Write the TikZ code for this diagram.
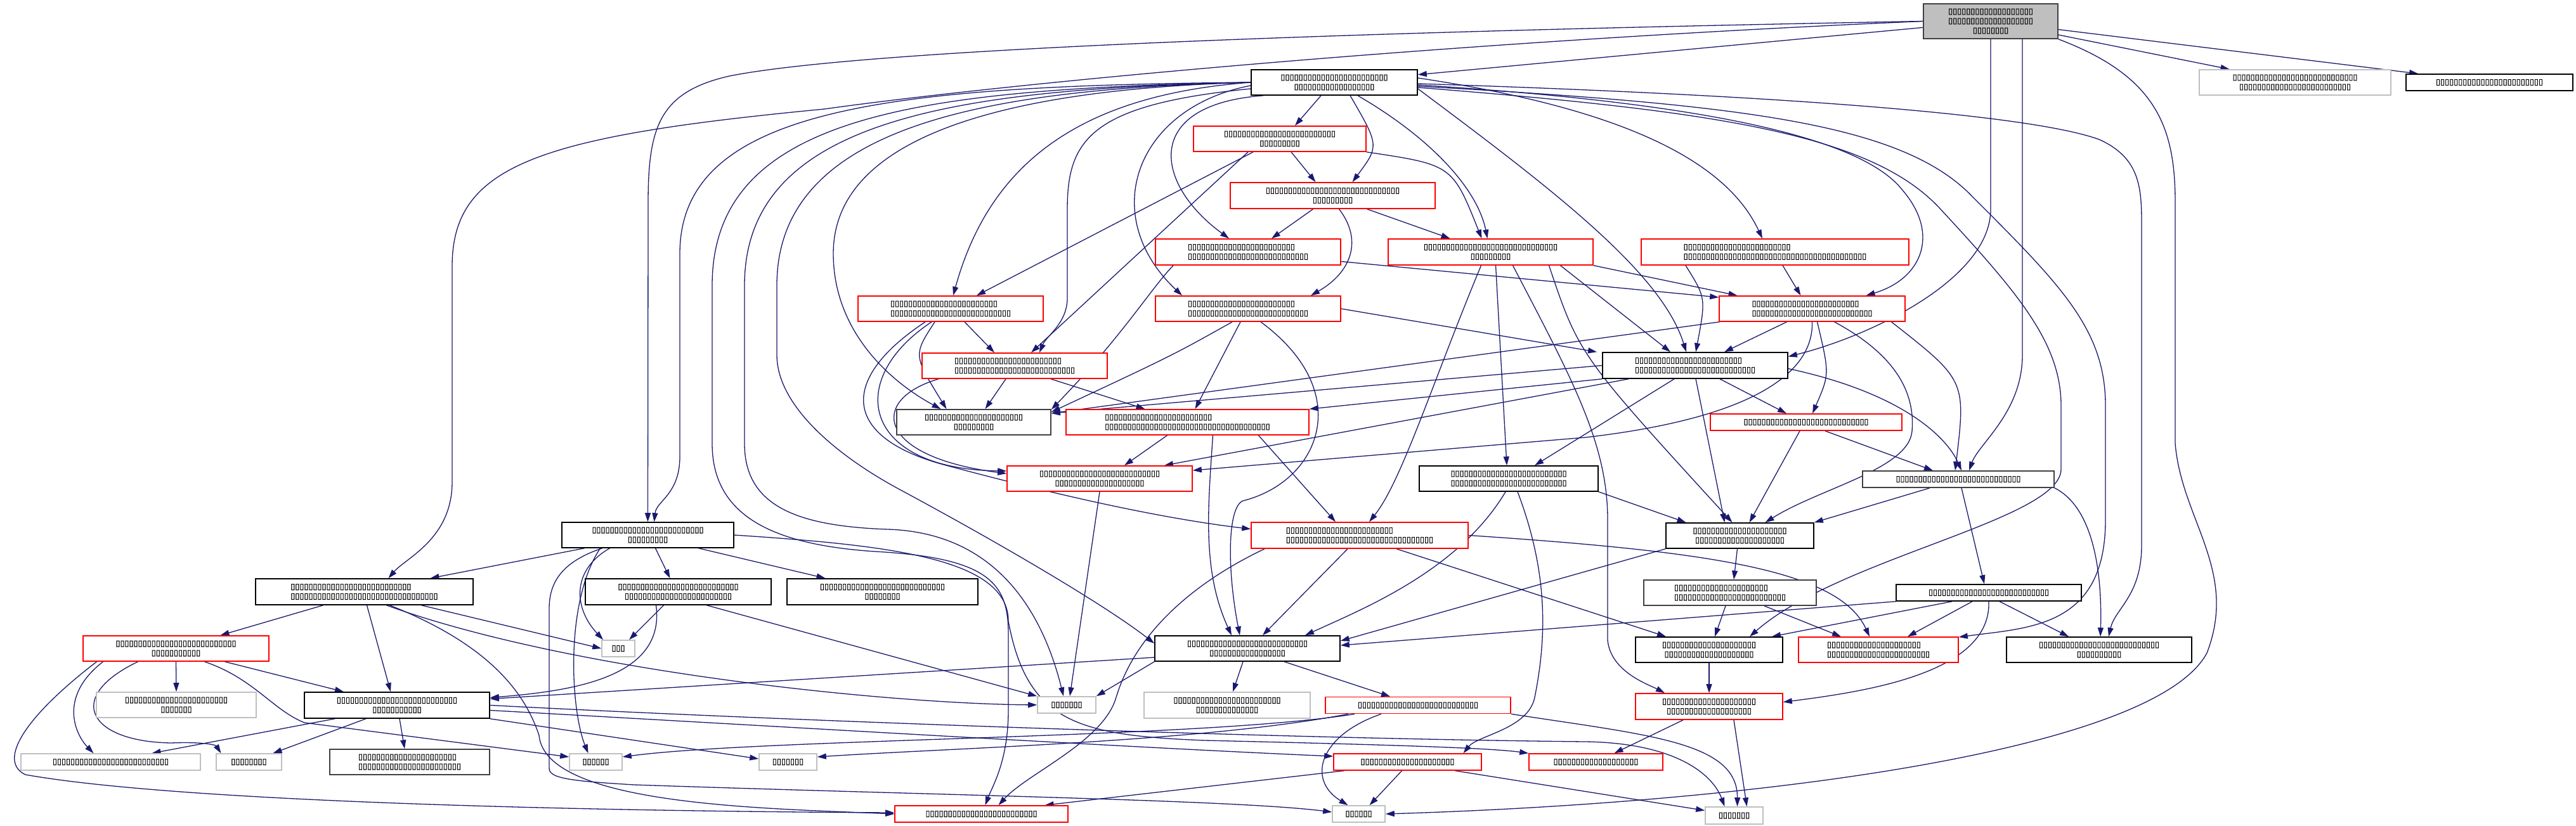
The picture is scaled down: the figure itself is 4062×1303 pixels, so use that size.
\documentclass[tikz,border=0pt]{standalone}
\usepackage{fontspec}
\usetikzlibrary{arrows.meta,backgrounds}
\newfontfamily\tofu{DejaVu Sans}[FakeBold=1.5]
\definecolor{edgeblue}{HTML}{191970}
\definecolor{nodered}{HTML}{FF0000}
\definecolor{lightg}{HTML}{BFBFBF}
\definecolor{darkg}{HTML}{404040}
\definecolor{rootfill}{HTML}{BFBFBF}
\ExplSyntaxOn
\cs_new:Npn \tfu #1 { \prg_replicate:nn {#1} {▯} }
\ExplSyntaxOff
\pgfdeclarelayer{edges}
\pgfsetlayers{background,edges,main}
\tikzset{
  nd/.style={draw=black, line width=1.6pt, fill=white, inner sep=0pt, align=center,
    font=\tofu\fontsize{12.8pt}{15pt}\selectfont},
  rd/.style={nd, draw=nodered},
  gy/.style={nd, draw=lightg},
  dk/.style={nd, draw=darkg},
  lt/.style={align=left},
  sz/.style 2 args={minimum width=#1pt, minimum height=#2pt},
  e/.style={draw=edgeblue, line width=1.3pt, -{Triangle[length=14pt,width=9pt]}},
}
\begin{document}
\begin{tikzpicture}[x=1pt,y=-1pt]
\begin{pgfonlayer}{background}
\fill[white] (0,0) rectangle (4062,1303);
\end{pgfonlayer}
\path[use as bounding box] (0,0) rectangle (4062,1303);
% nodes
\node[dk,fill=rootfill,sz={212}{55}] (R) at (3139,33.5) {\tfu{19}\\\tfu{19}\\\tfu{8}};
\node[nd,sz={262}{40}] (A) at (2104,130) {\tfu{24}\\\tfu{18}};
\node[gy,sz={302}{40}] (B) at (3619,130) {\tfu{28}\\\tfu{25}};
\node[nd,sz={263}{26}] (C) at (3925.5,130) {\tfu{24}};
\node[rd,sz={272}{40}] (D) at (2018,219) {\tfu{25}\\\tfu{9}};
\node[rd,sz={323}{41}] (E) at (2101.5,308.5) {\tfu{30}\\\tfu{9}};
\node[rd,lt,sz={292}{41}] (F) at (1968,397.5) {\tfu{24}\\\tfu{27}};
\node[rd,sz={323}{41}] (G) at (2350.5,397.5) {\tfu{30}\\\tfu{9}};
\node[rd,lt,sz={422}{41}] (H) at (2799,397.5) {\tfu{24}\\\tfu{41}};
\node[rd,lt,sz={292}{40}] (I) at (1499,487) {\tfu{24}\\\tfu{27}};
\node[rd,lt,sz={292}{40}] (J) at (1968,487) {\tfu{24}\\\tfu{27}};
\node[rd,lt,sz={293}{40}] (Q) at (2857.5,487) {\tfu{24}\\\tfu{27}};
\node[rd,lt,sz={292}{40}] (K) at (1600,577) {\tfu{24}\\\tfu{27}};
\node[nd,lt,sz={292}{41}] (P) at (2673,576.5) {\tfu{24}\\\tfu{27}};
\node[dk,sz={243}{40}] (L) at (1535.5,666) {\tfu{22}\\\tfu{9}};
\node[rd,lt,sz={383}{40}] (Mr) at (1872.5,666) {\tfu{24}\\\tfu{37}};
\node[rd,sz={302}{26}] (S) at (2848,666) {\tfu{28}};
\node[rd,sz={292}{40}] (N) at (1734,755) {\tfu{27}\\\tfu{20}};
\node[nd,sz={282}{40}] (O) at (2379,755) {\tfu{26}\\\tfu{26}};
\node[dk,sz={302}{26}] (T) at (3088,756) {\tfu{28}};
\node[nd,sz={271}{40}] (AJ) at (1021.5,844) {\tfu{25}\\\tfu{9}};
\node[rd,lt,sz={342}{41}] (AD) at (2144,844.5) {\tfu{24}\\\tfu{33}};
\node[nd,sz={233}{40}] (U) at (2743.5,845) {\tfu{21}\\\tfu{20}};
\node[nd,lt,sz={343}{41}] (AK) at (574.5,933.5) {\tfu{27}\\\tfu{33}};
\node[nd,sz={293}{41}] (AL) at (1069.5,933.5) {\tfu{27}\\\tfu{24}};
\node[nd,sz={301}{41}] (AM) at (1391.5,933.5) {\tfu{28}\\\tfu{8}};
\node[dk,lt,sz={272}{40}] (V) at (2728,935) {\tfu{21}\\\tfu{25}};
\node[nd,sz={292}{26}] (W) at (3136,935) {\tfu{27}};
\node[rd,sz={293}{40}] (AX) at (277.5,1023) {\tfu{27}\\\tfu{11}};
\node[gy,sz={52}{26}] (AN) at (975,1023) {\tfu{3}};
\node[nd,sz={292}{40}] (AE) at (1967,1023) {\tfu{27}\\\tfu{17}};
\node[nd,sz={232}{40}] (X) at (2695,1025) {\tfu{21}\\\tfu{20}};
\node[rd,lt,sz={252}{40}] (Y) at (2962,1025) {\tfu{21}\\\tfu{23}};
\node[nd,sz={292}{40}] (Z) at (3310,1025) {\tfu{27}\\\tfu{10}};
\node[gy,sz={252}{40}] (AQ) at (278,1112) {\tfu{23}\\\tfu{7}};
\node[nd,sz={292}{41}] (AP) at (626,1112.5) {\tfu{27}\\\tfu{11}};
\node[gy,sz={92}{26}] (AO) at (1682,1112) {\tfu{7}};
\node[gy,sz={262}{41}] (AF) at (1935,1112.5) {\tfu{24}\\\tfu{14}};
\node[rd,sz={292}{26}] (AG) at (2236,1112.5) {\tfu{27}};
\node[rd,sz={232}{41}] (AA) at (2695,1114.5) {\tfu{21}\\\tfu{19}};
\node[gy,sz={283}{26}] (AY) at (174.5,1202) {\tfu{26}};
\node[gy,sz={103}{26}] (AR) at (392.5,1202) {\tfu{8}};
\node[dk,lt,sz={252}{40}] (AS) at (646,1202) {\tfu{22}\\\tfu{23}};
\node[gy,sz={83}{26}] (AT) at (939.5,1202) {\tfu{6}};
\node[gy,sz={91}{26}] (AU) at (1242.5,1202) {\tfu{7}};
\node[rd,sz={233}{26}] (AH) at (2219.5,1202) {\tfu{21}};
\node[rd,sz={211}{26}] (AB) at (2516.5,1202) {\tfu{19}};
\node[rd,sz={273}{26}] (AV) at (1547.5,1284) {\tfu{25}};
\node[gy,sz={83}{26}] (AI) at (2142.5,1284) {\tfu{6}};
\node[gy,sz={91}{27}] (AC) at (2734.5,1286.5) {\tfu{7}};
% edges
\begin{pgfonlayer}{edges}
% root
\draw[e] (R) -- (A);
\draw[e] (R) -- (B);
\draw[e] (R) -- (C);
\draw[e] (R.west) .. controls (2300,65) and (1600,130) .. (1300,172) .. controls (850,215) and (713,260) .. (713,420) -- (713,760) .. controls (713,850) and (640,880) .. ([xshift=38pt]AK.north);
\draw[e] (R.west) .. controls (2400,45) and (1400,70) .. (1150,120) .. controls (1040,145) and (1022,200) .. (1022,320) -- (AJ.north);
\draw[e] (R.south) -- (3139,330) .. controls (3139,440) and (2950,530) .. ([yshift=14pt]P.east);
\draw[e] ([xshift=50pt]R.south) -- (3189,560) .. controls (3189,650) and (3120,700) .. ([xshift=17pt]T.north);
\draw[e] (R.south east) .. controls (3400,120) and (3430,200) .. (3430,320) -- (3430,700) .. controls (3440,820) and (3530,900) .. (3480,1030) .. controls (3400,1180) and (2800,1265) .. (AI.east);
% A
\draw[e] ([xshift=-21pt]A.south) -- ([xshift=24pt]D.north);
\draw[e] ([xshift=25pt]A.south) .. controls (2175,230) .. ([xshift=31pt]E.north);
\draw[e] ([xshift=18pt]D.south) -- ([xshift=-27pt]E.north);
\draw[e] ([xshift=-112pt]A.south) .. controls (1800,165) and (1820,290) .. ([xshift=-30pt]F.north);
\draw[e] ([xshift=-31pt]E.south) -- ([xshift=37pt]F.north);
\draw[e] ([xshift=37pt]A.south) .. controls (2260,220) and (2330,300) .. ([xshift=-5pt]G.north);
\draw[e] (D.south east) .. controls (2290,260) .. ([xshift=-14pt]G.north);
\draw[e] ([xshift=54pt]E.south) -- ([xshift=-64pt]G.north);
\draw[e] ([yshift=7pt]A.east) .. controls (2550,170) and (2720,250) .. ([xshift=-20pt]H.north);
\draw[e] (A.west) .. controls (1700,150) and (1560,260) .. ([xshift=4pt]I.north);
\draw[e] ([xshift=-42pt]D.south) -- ([xshift=41pt]I.north);
\draw[e] ([yshift=-5pt]A.west) .. controls (1790,170) and (1730,340) .. ([xshift=-104pt]J.north);
\draw[e] ([xshift=10pt]E.south) .. controls (2150,380) and (2130,430) .. ([xshift=99pt]J.north);
\draw[e] ([yshift=-10pt]A.west) .. controls (1720,165) and (1683,220) .. (1683,330) -- (1683,470) .. controls (1683,510) and (1650,530) .. ([xshift=39pt]K.north);
\draw[e] ([xshift=-50pt]D.south) -- ([xshift=26pt]K.north);
\draw[e] ([xshift=22pt]I.south) -- ([xshift=-32pt]K.north);
\draw[e] ([xshift=-25pt]I.south) .. controls (1440,560) .. ([xshift=-43pt]L.north);
\draw[e] ([xshift=-14pt]K.south) -- ([xshift=18pt]L.north);
\draw[e] ([xshift=-25pt]J.south) .. controls (1850,560) .. ([yshift=16pt]L.east);
\draw[e] (P.west) -- ([yshift=14pt]L.east);
\draw[e] ([xshift=-146pt]Q.south) -- ([yshift=14pt]L.east);
\draw[e] ([xshift=-118pt]F.south) .. controls (1815,455) and (1770,530) .. ([yshift=20pt]L.east);
\draw[e] ([xshift=57pt]K.south) -- ([xshift=-67pt]Mr.north);
\draw[e] ([xshift=-12pt]J.south) -- ([xshift=12pt]Mr.north);
\draw[e] (P.south west) -- (Mr.north east);
\draw[e] ([xshift=-30pt]I.south) .. controls (1330,600) and (1360,740) .. ([yshift=12pt]N.west);
\draw[e] ([xshift=-120pt]K.south) .. controls (1370,630) and (1380,720) .. ([yshift=8pt]N.west);
\draw[e] ([xshift=-40pt]I.south) .. controls (1320,600) and (1330,690) .. (1488,733) .. controls (1700,790) and (1850,820) .. ([yshift=10pt]AD.west);
\draw[e] ([xshift=-32pt]Mr.south) -- ([xshift=39pt]N.north);
\draw[e] ([xshift=-105pt]P.south) -- ([xshift=102pt]N.north);
\draw[e] (Q.south) .. controls (2860,590) and (2760,660) .. (2500,690) -- ([yshift=13pt]N.east);
\draw[e] ([xshift=8pt]G.south) -- ([xshift=-3pt]O.north);
\draw[e] ([xshift=-33pt]P.south) -- ([xshift=41pt]O.north);
\draw[e] ([xshift=-141pt]H.south) .. controls (2690,470) .. ([xshift=1pt]P.north);
\draw[e] ([yshift=-10pt]A.east) .. controls (2450,300) and (2620,430) .. ([xshift=-14pt]P.north);
\draw[e] ([xshift=110pt]G.south) -- ([xshift=-39pt]P.north);
\draw[e] (J.east) -- ([xshift=-155pt]P.north);
\draw[e] ([xshift=-40pt]Q.south) -- ([xshift=46pt]P.north);
\draw[e] (G.south east) -- ([xshift=-118pt]Q.north);
\draw[e] ([xshift=12pt]H.south) -- ([xshift=-18pt]Q.north);
\draw[e] ([yshift=-4pt]A.east) .. controls (2650,160) and (2930,210) .. (3000,300) .. controls (3060,370) and (3030,440) .. ([xshift=85pt]Q.north);
\draw[e] ([yshift=-15pt]F.east) -- ([yshift=18pt]Q.west);
\draw[e] ([xshift=39pt]P.south) -- ([xshift=-31pt]S.north);
\draw[e] ([xshift=8pt]Q.south) .. controls (2885,590) .. ([xshift=10pt]S.north);
\draw[e] ([xshift=30pt]S.south) -- ([xshift=-40pt]T.north);
\draw[e] ([xshift=125pt]Q.south) .. controls (3100,600) .. ([xshift=-5pt]T.north);
\draw[e] ([yshift=-5pt]P.east) .. controls (3000,620) and (3070,690) .. ([xshift=5pt]T.north);
\draw[e] (O.south east) -- ([xshift=-85pt]U.north);
\draw[e] ([xshift=1pt]P.south) -- ([xshift=-24pt]U.north);
\draw[e] ([xshift=92pt]G.south) .. controls (2490,560) .. ([xshift=-12pt]U.north);
\draw[e] ([xshift=-10pt]S.south) -- ([xshift=15pt]U.north);
\draw[e] ([xshift=35pt]Q.south) .. controls (2990,560) and (3020,620) .. (3015,680) .. controls (3010,740) and (2870,770) .. ([xshift=40pt]U.north);
\draw[e] ([xshift=-45pt]T.south) -- (U.north east);
\draw[e] ([xshift=-4pt]U.south) -- ([xshift=6pt]V.north);
\draw[e] ([xshift=5pt]T.south) -- ([xshift=-7pt]W.north);
\draw[e] ([xshift=58pt]AD.south) -- ([xshift=-68pt]X.north);
\draw[e] ([xshift=-7pt]V.south) -- ([xshift=9pt]X.north);
\draw[e] ([xshift=-58pt]W.south) -- ([xshift=99pt]X.north);
\draw[e] ([xshift=54pt]V.south) -- ([xshift=-59pt]Y.north);
\draw[e] (AD.east) .. controls (2700,870) and (2900,900) .. ([xshift=-14pt]Y.north);
\draw[e] ([xshift=-26pt]W.south) -- ([xshift=46pt]Y.north);
\draw[e] ([xshift=17pt]W.south) -- ([xshift=-48pt]Z.north);
\draw[e] (T.south east) .. controls (3300,800) and (3315,900) .. ([xshift=2pt]Z.north);
\draw[e] ([yshift=-2pt]A.east) .. controls (2800,150) and (3200,180) .. (3310,220) .. controls (3377,250) and (3377,300) .. (3377,360) -- (3377,860) .. controls (3377,940) and (3335,960) .. ([xshift=15pt]Z.north);
\draw[e] ([yshift=-8pt]A.east) .. controls (2700,175) and (2950,210) .. (3060,330) .. controls (3180,460) and (3250,540) .. (3250,640) -- (3250,740) .. controls (3250,820) and (2900,880) .. ([xshift=64pt]X.north);
\draw[e] ([yshift=-6pt]A.east) .. controls (2750,165) and (3000,195) .. (3110,310) .. controls (3250,450) and (3320,520) .. (3320,640) -- (3320,820) .. controls (3320,990) and (3200,990) .. ([yshift=20pt]Y.east);
\draw[e] (W.south) .. controls (3140,1060) and (2950,1090) .. ([yshift=7pt]AA.east);
\draw[e] ([xshift=35pt]G.south) .. controls (2480,600) and (2535,700) .. (2535,820) -- (2535,1010) .. controls (2540,1060) and (2600,1080) .. ([xshift=-70pt]AA.north);
\draw[e] (X.south) -- (AA.north);
\draw[e] ([xshift=-41pt]AA.south) -- ([xshift=29pt]AB.north);
\draw[e] ([xshift=39pt]AA.south) -- ([xshift=20pt]AC.north);
\draw[e] (AG.south east) .. controls (2600,1160) and (2740,1170) .. ([xshift=5pt]AC.north);
\draw[e] ([xshift=75pt]AH.south) -- ([yshift=8pt]AC.west);
\draw[e] ([xshift=-7pt]AE.south) -- ([xshift=9pt]AF.north);
\draw[e] ([xshift=58pt]AE.south) -- ([xshift=-44pt]AG.north);
\draw[e] ([xshift=-19pt]AD.south) -- ([xshift=24pt]AE.north);
\draw[e] ([xshift=-5pt]O.south) .. controls (2300,900) and (2150,960) .. ([xshift=91pt]AE.north);
\draw[e] (U.south west) -- ([yshift=12pt]AE.east);
\draw[e] (W.south west) -- ([yshift=5pt]AE.east);
\draw[e] ([xshift=40pt]Mr.south) .. controls (1905,800) and (1895,900) .. ([xshift=-25pt]AE.north);
\draw[e] ([xshift=20pt]J.south) .. controls (2140,620) and (2080,760) .. (1960,790) .. controls (1935,800) and (1935,900) .. ([xshift=-12pt]AE.north);
\draw[e] ([xshift=112pt]Mr.south) -- ([xshift=-38pt]AD.north);
\draw[e] ([xshift=-15pt]G.south) .. controls (2260,600) and (2210,760) .. ([xshift=15pt]AD.north);
\draw[e] (A.west) .. controls (1550,140) and (1225,200) .. (1225,450) -- (1225,560) .. controls (1225,640) and (1320,720) .. (1424,775) .. controls (1600,870) and (1750,960) .. ([yshift=8pt]AE.west);
\draw[e] ([xshift=14pt]O.south) .. controls (2440,900) and (2440,1000) .. (2420,1100) .. controls (2410,1150) and (2330,1160) .. ([xshift=88pt]AH.north);
\draw[e] ([yshift=-8pt]AP.east) .. controls (1300,1150) and (1800,1180) .. ([yshift=9pt]AH.west);
\draw[e] (AJ.east) .. controls (1400,860) and (1590,880) .. (1590,980) .. controls (1620,1140) and (1700,1160) .. (1900,1168) .. controls (2200,1175) and (2350,1180) .. (AB.north west);
\draw[e] (AP.east) .. controls (1200,1135) and (2000,1165) .. (2500,1170) .. controls (2640,1172) and (2700,1220) .. ([xshift=-15pt]AC.north);
\draw[e] ([xshift=-58pt]AG.south) .. controls (2080,1160) and (2060,1230) .. ([xshift=-17pt]AI.north);
\draw[e] ([xshift=-9pt]AH.south) -- ([xshift=17pt]AI.north);
\draw[e] ([xshift=-100pt]AG.south) .. controls (1900,1165) and (1200,1165) .. ([yshift=8pt]AT.east);
\draw[e] ([xshift=-110pt]AG.south) .. controls (1900,1170) and (1500,1180) .. ([yshift=8pt]AU.east);
\draw[e] ([xshift=-150pt]AD.south) .. controls (1880,920) and (1790,1000) .. (1760,1100) .. controls (1740,1170) and (1620,1220) .. ([xshift=27pt]AV.north);
\draw[e] ([xshift=-100pt]AH.south) -- ([xshift=100pt]AV.north);
\draw[e] (AE.south west) -- (AO.north east);
\draw[e] ([yshift=-14pt]AE.west) -- ([yshift=10pt]AP.east);
\draw[e] (N.south) -- ([xshift=5pt]AO.north);
\draw[e] (A.west) .. controls (1500,140) and (1174,190) .. (1174,450) -- (1174,700) .. controls (1174,800) and (1260,830) .. (1400,835) .. controls (1560,840) and (1640,950) .. ([xshift=-5pt]AO.north);
\draw[e] (A.west) .. controls (1450,140) and (1123,180) .. (1123,450) -- (1123,700) .. controls (1123,820) and (1230,860) .. (1380,870) .. controls (1560,880) and (1590,920) .. (1590,1000) -- (1590,1120) .. controls (1590,1200) and (1565,1240) .. ([xshift=6pt]AV.north);
\draw[e] (A.west) .. controls (1400,135) and (1072,170) .. (1072,400) -- (1072,720) .. controls (1072,780) and (1035,790) .. ([xshift=10pt]AJ.north);
\draw[e] (A.west) .. controls (1600,140) and (1314,210) .. (1314,400) .. controls (1314,520) and (1400,600) .. ([xshift=-52pt]L.north);
% left part
\draw[e] ([xshift=-100pt]AJ.south) -- ([xshift=104pt]AK.north);
\draw[e] ([xshift=12pt]AJ.south) -- ([xshift=-13pt]AL.north);
\draw[e] ([xshift=80pt]AJ.south) -- ([xshift=-90pt]AM.north);
\draw[e] ([xshift=-60pt]AJ.south) .. controls (900,900) and (905,960) .. ([xshift=-24pt]AN.north);
\draw[e] ([xshift=-75pt]AJ.south) .. controls (890,950) and (900,1120) .. ([xshift=-12pt]AT.north);
\draw[e] ([xshift=-72pt]AJ.south) .. controls (890,885) and (866,915) .. (866,960) -- (866,1212) .. controls (866,1228) and (900,1232) .. (1000,1238) .. controls (1500,1255) and (1950,1262) .. ([yshift=3pt]AI.west);
\draw[e] ([xshift=-23pt]AL.south) -- ([xshift=17pt]AN.north);
\draw[e] ([xshift=-35pt]AL.south) .. controls (1050,1070) and (900,1090) .. ([yshift=12pt]AP.east);
\draw[e] ([xshift=45pt]AL.south) -- (AO.north west);
\draw[e] ([xshift=90pt]AK.south) -- (AN.west);
\draw[e] ([xshift=35pt]AK.south) .. controls (900,1060) and (1400,1110) .. (AO.west);
\draw[e] ([xshift=4pt]AK.south) -- ([xshift=-10pt]AP.north);
\draw[e] ([xshift=-65pt]AK.south) -- ([xshift=70pt]AX.north);
\draw[e] ([xshift=40pt]AK.south) .. controls (780,1020) and (830,1100) .. (850,1160) .. controls (860,1270) and (1200,1275) .. (AV.west);
\draw[e] (AX.south) -- (AQ.north);
\draw[e] ([xshift=77pt]AX.south) -- ([xshift=-84pt]AP.north);
\draw[e] ([xshift=-115pt]AX.south) .. controls (90,1100) and (120,1160) .. ([xshift=-27pt]AY.north);
\draw[e] ([xshift=-60pt]AX.south) .. controls (100,1100) and (140,1170) .. (270,1172) .. controls (320,1170) and (340,1175) .. ([xshift=-44pt]AR.north);
\draw[e] ([xshift=45pt]AX.south) .. controls (400,1070) and (430,1120) .. (480,1140) -- ([yshift=8pt]AT.west);
\draw[e] ([xshift=-125pt]AX.south) .. controls (40,1130) and (-5,1200) .. (40,1222) .. controls (300,1268) and (1000,1280) .. ([yshift=2pt]AV.west);
\draw[e] ([xshift=-98pt]AP.south) -- ([xshift=65pt]AY.north);
\draw[e] ([xshift=-49pt]AP.south) -- ([xshift=38pt]AR.north);
\draw[e] ([xshift=4pt]AP.south) -- ([xshift=-8pt]AS.north);
\draw[e] (AP.south east) -- ([yshift=5pt]AU.west);
\end{pgfonlayer}
\end{tikzpicture}
\end{document}
